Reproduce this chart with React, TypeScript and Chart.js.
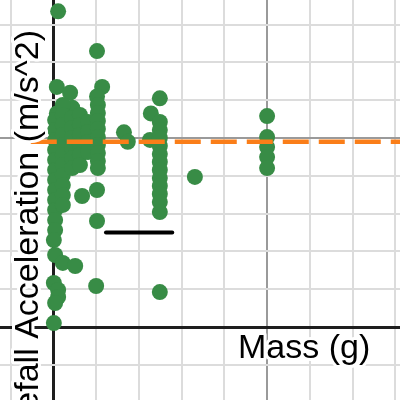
import React, { useEffect, useRef } from "react";
import { Chart, registerables } from "chart.js";

Chart.register(...registerables);

// Measured data (mass in g, acceleration in m/s^2)
const masses = [
  1.1, 10.2, 0.8, 3.9, 11.4, 10.2, 4.4, 0.8,
  0.4, 0.4, 0.4, 0.4, 0.4, 0.4, 0.4, 0.4, 0.4, 0.4, 0.4, 0.4,
  2.2, 2.2, 2.2, 2.2, 2.2, 2.2, 2.2, 2.2, 2.2, 2.2, 2.2,
  4.4, 4.4, 4.4, 4.4, 4.4, 4.4,
  6.2, 6.2, 6.2, 6.2, 6.2, 6.2,
  8.1, 8.1, 8.1, 8.1,
  10.4, 10.4, 10.4, 10.4, 10.4, 10.4, 10.4, 10.4, 10.4,
  10.2, 6.7, 10.2, 0.1, 0.4, 2.2, 5.1, 10.0, 0.1, 1.1, 1.1, 0.4, 0.1,
  24.9, 22.8, 24.9, 16.5, 17.4, 22.6,
  24.9, 24.9, 24.9, 24.9, 24.9, 24.9, 24.9, 24.9, 24.9, 24.9, 24.9,
  24.9, 33.1,
  50, 50, 50, 50, 50,
];
const accelerations = [
  16.7, 14.6, 12.7, 12.4, 12.7, 12.2, 11.6, 11.3,
  10.95, 10.42, 9.89, 9.37, 8.84, 8.31, 7.78, 7.25, 6.72, 6.19, 5.66, 5.13,
  11.75, 11.22, 10.69, 10.16, 9.63, 9.1, 8.57, 8.04, 7.51, 6.98, 6.46,
  11.06, 10.53, 10.0, 9.47, 8.94, 8.41,
  11.22, 10.69, 10.16, 9.63, 9.1, 8.57,
  10.85, 10.32, 9.79, 9.26,
  11.75, 11.32, 10.9, 10.48, 10.05, 9.63, 9.2, 8.78, 8.41,
  7.25, 6.93, 5.61, 4.6, 3.81, 3.39, 3.23, 2.17, 2.33, 1.96, 1.59, 1.27, 0.21,
  12.1, 11.3, 10.85, 10.3, 9.8, 9.9,
  10.42, 10.0, 9.58, 9.15, 8.73, 8.31, 7.88, 7.46, 7.04, 6.61, 6.08,
  1.85, 7.94,
  11.16, 10.05, 9.52, 8.99, 8.41,
];

const referenceG = 9.8;
const referenceLineX = [-5.3, 81.1];
const segmentX = [12.3, 27.8];
const segmentY = 5.0;

const xRange = [-12.5, 81.1];
const yRange = [-3.86, 17.3];
const xStep = 10;
const yStep = 2;
const xMajor = 50;
const yMajor = 10;

const xTitle = "Mass (g)";
const yTitle = "Freefall Acceleration (m/s^2)";

const GREEN = "#388c46";
const ORANGE = "#fa7e19";

const labelsPlugin = {
  id: "desmosLabels",
  afterDatasetsDraw(chart: any) {
    const ctx = chart.ctx;
    ctx.save();
    ctx.font = '34px "Liberation Sans", Arial, sans-serif';
    ctx.lineJoin = "round";
    ctx.strokeStyle = "#ffffff";
    ctx.lineWidth = 6;
    ctx.fillStyle = "#000000";
    ctx.textBaseline = "alphabetic";
    // x title
    ctx.textAlign = "left";
    ctx.strokeText(xTitle, 238, 358);
    ctx.fillText(xTitle, 238, 358);
    // y title
    ctx.translate(38, 30);
    ctx.rotate(-Math.PI / 2);
    ctx.textAlign = "right";
    ctx.strokeText(yTitle, 0, 0);
    ctx.fillText(yTitle, 0, 0);
    ctx.restore();
  },
};

function gridColor(major: number) {
  return (c: any) => {
    const v = c.tick ? c.tick.value : NaN;
    if (Math.abs(v) < 1e-9) return "#1e1e1e";
    if (Math.abs(Math.abs(v) % major) < 1e-9) return "#9a9a9a";
    return "#dcdcdc";
  };
}
function gridWidth(c: any) {
  const v = c.tick ? c.tick.value : NaN;
  if (Math.abs(v) < 1e-9) return 3;
  return 2;
}

export default function App() {
  const ref = useRef<HTMLCanvasElement | null>(null);

  useEffect(() => {
    if (!ref.current) return;
    const points = masses.map((m, i) => ({ x: m, y: accelerations[i] }));
    const chart = new Chart(ref.current, {
      type: "scatter",
      data: {
        datasets: [
          {
            label: "reference",
            data: referenceLineX.map((x) => ({ x, y: referenceG })),
            showLine: true,
            borderColor: ORANGE,
            borderWidth: 4.5,
            borderDash: [26, 10],
            pointRadius: 0,
            order: 0,
          } as any,
          {
            label: "segment",
            data: segmentX.map((x) => ({ x, y: segmentY })),
            showLine: true,
            borderColor: "#000000",
            borderWidth: 4,
            borderCapStyle: "round",
            pointRadius: 0,
            order: 1,
          } as any,
          {
            label: "trials",
            data: points,
            backgroundColor: GREEN,
            borderColor: GREEN,
            borderWidth: 0,
            pointRadius: 8,
            order: 2,
          },
        ],
      },
      options: {
        animation: false,
        responsive: false,
        maintainAspectRatio: false,
        layout: { padding: 0, autoPadding: false },
        plugins: {
          legend: { display: false },
          tooltip: { enabled: false },
        },
        scales: {
          x: {
            type: "linear",
            min: xRange[0],
            max: xRange[1],
            ticks: { display: false, stepSize: xStep, includeBounds: false },
            grid: {
              drawTicks: false,
              color: gridColor(xMajor),
              lineWidth: gridWidth,
            },
            border: { display: false },
          },
          y: {
            type: "linear",
            min: yRange[0],
            max: yRange[1],
            ticks: { display: false, stepSize: yStep, includeBounds: false },
            grid: {
              drawTicks: false,
              color: gridColor(yMajor),
              lineWidth: gridWidth,
            },
            border: { display: false },
          },
        },
      } as any,
      plugins: [labelsPlugin],
    });
    return () => chart.destroy();
  }, []);

  return (
    <div style={{ position: "absolute", left: 0, top: 0, width: 400, height: 400, background: "#fff" }}>
      <canvas ref={ref} width={400} height={400} style={{ display: "block" }} />
    </div>
  );
}
